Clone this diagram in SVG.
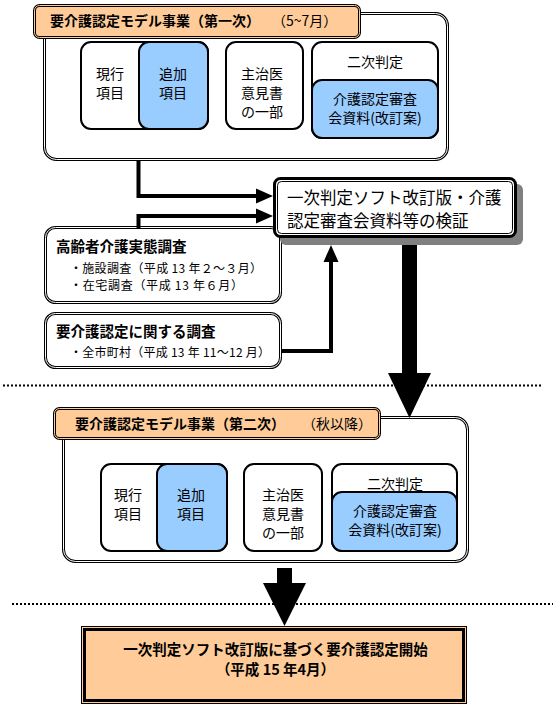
<svg xmlns="http://www.w3.org/2000/svg" width="556" height="710" viewBox="0 0 556 710">
<defs>
<style>
text { font-family: "Noto Sans CJK JP", "Noto Sans", sans-serif; fill: #000; }
.t14 { font-size: 14px; }
.t12 { font-size: 12px; }
.b { font-weight: bold; }
.mid { text-anchor: middle; }
.dblo { fill: #fff; stroke: #000; stroke-width: 3; }
.dbli { fill: none; stroke: #fff; stroke-width: 1; }
.ttlo { fill: #FFCC99; stroke: #000; stroke-width: 3; }
.ttli { fill: none; stroke: #FFCC99; stroke-width: 1; }
.wbox { fill: #fff; stroke: #000; stroke-width: 2; }
.bbox { fill: #99CCFF; stroke: #000; stroke-width: 2; }
.conn { fill: none; stroke: #000; stroke-width: 4; }
.dots { fill: none; stroke: #000; stroke-width: 2; stroke-dasharray: 2 2; }
</style>
</defs>
<rect width="556" height="710" fill="#fff"/>

<g id="model1">
<rect class="dblo" x="44.5" y="13.5" width="403" height="146" rx="12"/>
<rect class="dbli" x="44.5" y="13.5" width="403" height="146" rx="12"/>
<rect class="ttlo" x="34.5" y="5.5" width="325" height="32" rx="5"/>
<rect class="ttli" x="34.5" y="5.5" width="325" height="32" rx="5"/>
<text class="t14 b" x="50" y="26">要介護認定モデル事業（第一次）</text>
<text class="t14" x="272" y="26">（5~7月）</text>
<g id="m1-items">
<rect class="wbox" x="81" y="42" width="127" height="87" rx="10"/>
<rect class="bbox" x="139" y="42" width="69" height="87" rx="10"/>
<text class="t14 mid" x="110" y="79">現行</text>
<text class="t14 mid" x="110" y="98">項目</text>
<text class="t14 mid" x="173" y="79">追加</text>
<text class="t14 mid" x="173" y="98">項目</text>
</g>
<g id="m1-doctor">
<rect class="wbox" x="226" y="42" width="77" height="87" rx="10"/>
<text class="t14 mid" x="262" y="79">主治医</text>
<text class="t14 mid" x="262" y="98">意見書</text>
<text class="t14 mid" x="262" y="117">の一部</text>
</g>
<g id="m1-second">
<rect class="wbox" x="312" y="42" width="126" height="96" rx="10"/>
<rect class="bbox" x="312" y="80" width="126" height="58" rx="10"/>
<text class="t14 mid" x="375" y="67">二次判定</text>
<text class="t14 mid" x="375" y="104">介護認定審査</text>
<text class="t14 mid" x="375" y="123">会資料(改訂案)</text>
</g>
</g>

<g id="survey1">
<rect class="dblo" x="45.5" y="227.5" width="235" height="75" rx="10"/>
<rect class="dbli" x="45.5" y="227.5" width="235" height="75" rx="10"/>
<text class="b" style="font-size:14.5px" x="56" y="252">高齢者介護実態調査</text>
<text class="t12" x="70" y="273" textLength="192" lengthAdjust="spacing">・施設調査（平成 13 年２～３月）</text>
<text class="t12" x="70" y="290" textLength="173" lengthAdjust="spacing">・在宅調査（平成 13 年６月）</text>
</g>

<g id="survey2">
<rect class="dblo" x="45.5" y="313.5" width="235" height="54" rx="10"/>
<rect class="dbli" x="45.5" y="313.5" width="235" height="54" rx="10"/>
<text class="b" style="font-size:14.5px" x="56" y="337">要介護認定に関する調査</text>
<text class="t12" x="70" y="357" textLength="200" lengthAdjust="spacing">・全市町村（平成 13 年 11～12 月）</text>
</g>

<g id="model2">
<rect class="dblo" x="63.5" y="417.5" width="404" height="144" rx="12"/>
<rect class="dbli" x="63.5" y="417.5" width="404" height="144" rx="12"/>
<rect class="ttlo" x="54.5" y="408.5" width="325" height="30" rx="5"/>
<rect class="ttli" x="54.5" y="408.5" width="325" height="30" rx="5"/>
<text class="t14 b" x="75" y="428.5">要介護認定モデル事業（第二次）</text>
<text class="t14" x="302" y="428.5">（秋以降）</text>
<g id="m2-items">
<rect class="wbox" x="101" y="464" width="126" height="87" rx="10"/>
<rect class="bbox" x="157" y="464" width="70" height="87" rx="10"/>
<text class="t14 mid" x="128" y="499.5">現行</text>
<text class="t14 mid" x="128" y="518.5">項目</text>
<text class="t14 mid" x="191" y="499.5">追加</text>
<text class="t14 mid" x="191" y="518.5">項目</text>
</g>
<g id="m2-doctor">
<rect class="wbox" x="244" y="464" width="78" height="87" rx="10"/>
<text class="t14 mid" x="283" y="499.5">主治医</text>
<text class="t14 mid" x="283" y="518.5">意見書</text>
<text class="t14 mid" x="283" y="537.5">の一部</text>
</g>
<g id="m2-second">
<rect class="wbox" x="332" y="464" width="125" height="87" rx="10"/>
<rect class="bbox" x="332" y="492" width="125" height="59" rx="10"/>
<text class="t14 mid" x="395" y="488.5">二次判定</text>
<text class="t14 mid" x="395" y="515.5">介護認定審査</text>
<text class="t14 mid" x="395" y="534.5">会資料(改訂案)</text>
</g>
</g>

<g id="connectors">
<path class="conn" d="M138.5,160 V196 H258"/>
<polygon points="256,188.5 273,196 256,203.5"/>
<path class="conn" d="M138.5,228 V216 H258"/>
<polygon points="256,208.5 273,216 256,223.5"/>
<path class="conn" d="M281,351 H331 V260"/>
<polygon points="323.5,262 331,245 338.5,262"/>
<polygon points="402,240 417,240 417,373 431,373 409.5,418 388,373 402,373"/>
<polygon points="277,568 292,568 292,583 306,583 284.5,626 263,583 277,583"/>
<line class="dots" x1="3" y1="385.5" x2="541" y2="385.5"/>
<line class="dots" x1="12" y1="604" x2="553" y2="604"/>
</g>

<g id="verify">
<rect x="280" y="184" width="243" height="61" rx="6" fill="#808080"/>
<rect x="274.5" y="178.5" width="241" height="58" rx="6" fill="#fff" stroke="#000" stroke-width="3"/>
<rect x="277.5" y="181.5" width="235" height="52" rx="4" fill="none" stroke="#000" stroke-width="1"/>
<text style="font-size:16.5px" x="287" y="203.5">一次判定ソフト改訂版・介護</text>
<text style="font-size:16.5px" x="287" y="226.5">認定審査会資料等の検証</text>
</g>

<g id="start">
<rect x="81.5" y="626.5" width="385" height="77" fill="#FFCC99" stroke="#000" stroke-width="1"/>
<rect x="84.5" y="629.5" width="379" height="71" fill="none" stroke="#000" stroke-width="3"/>
<text class="b mid" style="font-size:14.5px" x="275.5" y="655">一次判定ソフト改訂版に基づく要介護認定開始</text>
<text class="b mid" style="font-size:14.5px" x="275.5" y="675">（平成 15 年4月）</text>
</g>
</svg>
